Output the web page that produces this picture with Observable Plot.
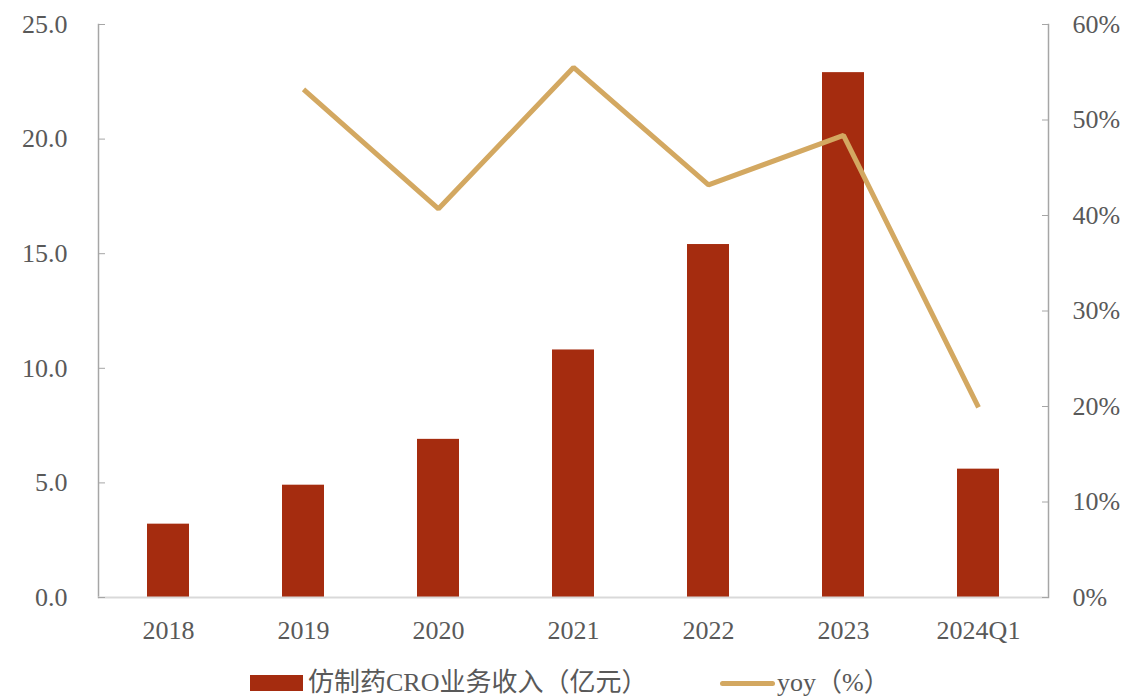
<!DOCTYPE html>
<html>
<head>
<meta charset="utf-8">
<script src="https://cdn.jsdelivr.net/npm/d3@7"></script>
<script src="https://cdn.jsdelivr.net/npm/@observablehq/plot@0.6"></script>
<style>
  html, body { margin: 0; padding: 0; background: #fff; }
  #chart { width: 1125px; height: 660px; }
  .legend { display: flex; justify-content: flex-start; align-items: center; height: 30px; margin-top: 8px; line-height: 30px; padding-left: 250px;
    font-family: "Liberation Serif", "Times New Roman", "Noto Sans CJK SC", serif; font-size: 26px; color: #595959; }
  .item { display: flex; align-items: center; }
  .sw-bar { width: 53px; height: 16px; background: #A52C0F; margin-right: 5px; }
  .sw-line { width: 55px; height: 5px; background: #D3A861; border-radius: 3px; margin-right: 2px; }
</style>
</head>
<body>
<div id="chart"></div>
<div class="legend">
  <div class="item" style="width:470px"><div class="sw-bar"></div><span id="l1"></span></div>
  <div class="item"><div class="sw-line"></div><span id="l2"></span></div>
</div>
<script>
const categories = ["2018", "2019", "2020", "2021", "2022", "2023", "2024Q1"];
const revenue = [3.2, 4.9, 6.9, 10.8, 15.4, 22.9, 5.6];
const yoyCategories = ["2019", "2020", "2021", "2022", "2023", "2024Q1"];
const yoy = [53.2, 40.7, 55.5, 43.2, 48.4, 19.9];
const leftTicks = [0, 5, 10, 15, 20, 25];
const rightTicks = [0, 10, 20, 30, 40, 50, 60];
const seriesNames = ["仿制药CRO业务收入（亿元）", "yoy（%）"];

const barColor = "#A52C0F";
const lineColor = "#D3A861";
const textColor = "#595959";
const axisColor = "#A6A6A6";
const leftMax = 25, rightMax = 60;
const toLeft = v => v * leftMax / rightMax;

document.getElementById("l1").textContent = seriesNames[0];
document.getElementById("l2").textContent = seriesNames[1];

const bars = categories.map((c, i) => ({cat: c, value: revenue[i]}));
const line = yoyCategories.map((c, i) => ({cat: c, value: toLeft(yoy[i])}));

const chart = Plot.plot({
  width: 1125,
  height: 660,
  marginLeft: 98,
  marginRight: 77,
  marginTop: 24,
  marginBottom: 63,
  style: {fontFamily: "'Liberation Serif', 'Times New Roman', serif", fontSize: "26px", color: textColor, background: "#fff"},
  x: {domain: categories, paddingInner: 0.69, paddingOuter: 0.345, align: 0.5},
  y: {domain: [0, leftMax]},
  marks: [
    Plot.barY(bars, {x: "cat", y: "value", fill: barColor}),
    Plot.line(line, {x: "cat", y: "value", stroke: lineColor, strokeWidth: 5, strokeLinejoin: "miter", strokeLinecap: "butt"}),
    Plot.frame({anchor: "left", stroke: axisColor, strokeWidth: 1.5}),
    Plot.frame({anchor: "right", stroke: axisColor, strokeWidth: 1.5}),
    Plot.ruleY([0], {stroke: "#D9D9D9", strokeWidth: 2}),
    Plot.axisX({tickSize: 0, tickPadding: 23, label: null, fill: textColor}),
    Plot.axisY({anchor: "left", ticks: leftTicks, tickFormat: d => d.toFixed(1), tickSize: -7, tickPadding: 38, stroke: axisColor, fill: textColor, label: null}),
    Plot.axisY({anchor: "right", ticks: rightTicks.map(toLeft), tickFormat: d => Math.round(d * rightMax / leftMax) + "%", tickSize: -7, tickPadding: 31, stroke: axisColor, fill: textColor, label: null})
  ]
});
document.getElementById("chart").appendChild(chart);
</script>
</body>
</html>
